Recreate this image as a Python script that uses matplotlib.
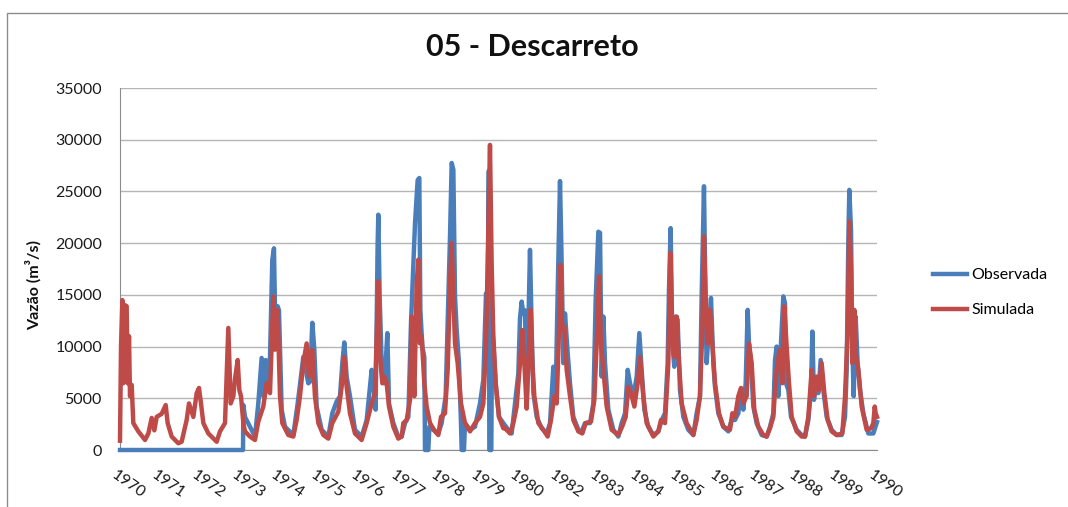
import numpy as np
import matplotlib
matplotlib.use("Agg")
import matplotlib.pyplot as plt
from matplotlib.patches import Rectangle
from matplotlib.transforms import ScaledTranslation

# Daily discharge at station 05 - Descarreto, 1970-1990 (decimal years, m3/s)
obs_years = [
    1970.000, 1973.250, 1973.259, 1973.302, 1973.434, 1973.566, 1973.654, 1973.742,
    1973.786, 1973.848, 1973.901, 1973.963, 1974.024, 1974.068, 1974.112, 1974.165,
    1974.200, 1974.271, 1974.359, 1974.579, 1974.694, 1974.755, 1974.843, 1974.975,
    1975.019, 1975.081, 1975.134, 1975.195, 1975.328, 1975.504, 1975.609, 1975.724,
    1975.812, 1975.874, 1975.926, 1975.988, 1976.076, 1976.208, 1976.384, 1976.517,
    1976.649, 1976.693, 1976.754, 1976.807, 1976.825, 1976.860, 1976.913, 1976.984,
    1977.019, 1977.063, 1977.107, 1977.221, 1977.353, 1977.442, 1977.530, 1977.618,
    1977.688, 1977.750, 1977.794, 1977.864, 1977.908, 1977.935, 1977.988, 1978.040,
    1978.058, 1978.146, 1978.173, 1978.278, 1978.410, 1978.498, 1978.604, 1978.675,
    1978.719, 1978.763, 1978.807, 1978.851, 1978.895, 1978.956, 1979.009, 1979.027,
    1979.088, 1979.115, 1979.247, 1979.379, 1979.511, 1979.599, 1979.670, 1979.714,
    1979.745, 1979.758, 1979.810, 1979.830, 1979.864, 1979.925, 1980.013, 1980.128,
    1980.260, 1980.348, 1980.436, 1980.524, 1980.568, 1980.612, 1980.656, 1980.700,
    1980.744, 1980.788, 1980.832, 1980.877, 1980.921, 1981.009, 1981.141, 1981.273,
    1981.361, 1981.449, 1981.511, 1981.563, 1981.625, 1981.669, 1981.713, 1981.757,
    1981.828, 1981.889, 1981.977, 1982.110, 1982.198, 1982.286, 1982.418, 1982.506,
    1982.567, 1982.638, 1982.682, 1982.726, 1982.770, 1982.814, 1982.902, 1983.034,
    1983.166, 1983.254, 1983.343, 1983.413, 1983.475, 1983.563, 1983.651, 1983.721,
    1983.782, 1983.853, 1983.958, 1984.090, 1984.223, 1984.311, 1984.399, 1984.469,
    1984.504, 1984.548, 1984.592, 1984.645, 1984.680, 1984.733, 1984.795, 1984.883,
    1985.015, 1985.147, 1985.235, 1985.323, 1985.367, 1985.429, 1985.473, 1985.499,
    1985.544, 1985.614, 1985.676, 1985.720, 1985.808, 1985.940, 1986.072, 1986.160,
    1986.248, 1986.336, 1986.407, 1986.468, 1986.530, 1986.583, 1986.618, 1986.671,
    1986.732, 1986.820, 1986.953, 1987.085, 1987.173, 1987.261, 1987.305, 1987.349,
    1987.393, 1987.437, 1987.525, 1987.569, 1987.596, 1987.657, 1987.728, 1987.878,
    1988.010, 1988.098, 1988.186, 1988.256, 1988.292, 1988.336, 1988.380, 1988.450,
    1988.512, 1988.582, 1988.670, 1988.802, 1988.934, 1989.067, 1989.155, 1989.199,
    1989.243, 1989.269, 1989.313, 1989.348, 1989.384, 1989.436, 1989.489, 1989.551,
    1989.639, 1989.771, 1989.903, 1990.000,
]
obs_flow = [
    0, 0, 4350, 3200, 2250, 1300, 4500, 8900,
    5200, 8700, 6450, 9000, 18400, 19500, 10000, 13900,
    13500, 3900, 2250, 1450, 4500, 6300, 9000, 6450,
    6600, 12300, 9700, 4200, 1950, 1300, 3550, 4700,
    5200, 8400, 10400, 7100, 5200, 1950, 1300, 2900,
    7750, 6450, 3900, 20000, 22750, 14850, 8400, 6450,
    8400, 11300, 4500, 2600, 1300, 1300, 2600, 3200,
    12250, 18000, 21900, 26100, 26300, 13550, 10000, 9000,
    0, 0, 2250, 1950, 1600, 2600, 5200, 14850,
    20650, 27750, 27100, 14850, 11600, 8400, 2600, 0,
    0, 2600, 1950, 2250, 4500, 6800, 15150, 13550,
    27000, 0, 0, 12000, 10300, 6450, 3200, 2600,
    1950, 1600, 4500, 7400, 12750, 14350, 13200, 13500,
    4200, 11600, 19350, 11600, 5500, 3200, 2100, 1600,
    2600, 8050, 5500, 15150, 26000, 18000, 8400, 13200,
    9350, 6450, 3200, 1950, 1800, 2600, 2600, 4500,
    14500, 21100, 21000, 7100, 12900, 8400, 3900, 1950,
    1300, 2600, 3550, 7750, 6450, 5200, 7100, 11300,
    7750, 3900, 2250, 1450, 1800, 2900, 3550, 8400,
    15500, 21450, 10300, 8050, 12900, 12600, 5800, 3200,
    1950, 1450, 3550, 5200, 14850, 25500, 12900, 8400,
    10950, 14700, 8400, 6100, 3550, 2250, 1800, 2900,
    2900, 3550, 5800, 3900, 6450, 13550, 10300, 8400,
    4200, 2600, 1450, 1300, 2250, 3550, 8700, 10000,
    5200, 8400, 14850, 14200, 6450, 5800, 3200, 1950,
    1450, 1300, 2900, 5800, 11450, 4850, 6450, 5500,
    8700, 5800, 3200, 1950, 1450, 1450, 3200, 7750,
    20300, 25150, 21300, 10000, 5200, 12900, 8400, 5800,
    3550, 1600, 1600, 2700,
]

sim_years = [
    1970.000, 1970.027, 1970.062, 1970.088, 1970.132, 1970.176, 1970.203, 1970.238,
    1970.264, 1970.308, 1970.352, 1970.484, 1970.661, 1970.749, 1970.837, 1970.907,
    1970.969, 1971.101, 1971.207, 1971.259, 1971.365, 1971.541, 1971.629, 1971.761,
    1971.823, 1971.938, 1972.026, 1972.087, 1972.140, 1972.202, 1972.334, 1972.554,
    1972.642, 1972.774, 1972.862, 1972.924, 1972.994, 1973.039, 1973.109, 1973.153,
    1973.197, 1973.259, 1973.302, 1973.434, 1973.566, 1973.654, 1973.786, 1973.874,
    1973.963, 1974.051, 1974.095, 1974.165, 1974.227, 1974.288, 1974.447, 1974.579,
    1974.667, 1974.755, 1974.843, 1974.931, 1974.993, 1975.081, 1975.151, 1975.240,
    1975.372, 1975.504, 1975.609, 1975.768, 1975.856, 1975.926, 1975.988, 1976.076,
    1976.208, 1976.384, 1976.517, 1976.649, 1976.737, 1976.825, 1976.869, 1976.931,
    1976.984, 1977.045, 1977.107, 1977.221, 1977.353, 1977.442, 1977.486, 1977.574,
    1977.662, 1977.706, 1977.776, 1977.838, 1977.882, 1977.926, 1977.970, 1978.040,
    1978.102, 1978.190, 1978.322, 1978.410, 1978.481, 1978.586, 1978.657, 1978.719,
    1978.763, 1978.807, 1978.851, 1978.921, 1979.009, 1979.115, 1979.247, 1979.379,
    1979.511, 1979.599, 1979.670, 1979.731, 1979.775, 1979.819, 1979.864, 1979.925,
    1980.013, 1980.128, 1980.172, 1980.304, 1980.392, 1980.480, 1980.568, 1980.630,
    1980.683, 1980.744, 1980.806, 1980.850, 1980.894, 1980.947, 1981.053, 1981.185,
    1981.299, 1981.387, 1981.475, 1981.537, 1981.599, 1981.634, 1981.687, 1981.740,
    1981.801, 1981.889, 1981.977, 1982.110, 1982.215, 1982.303, 1982.444, 1982.532,
    1982.594, 1982.655, 1982.708, 1982.770, 1982.858, 1982.990, 1983.166, 1983.272,
    1983.360, 1983.431, 1983.501, 1983.589, 1983.677, 1983.739, 1983.826, 1983.914,
    1984.090, 1984.223, 1984.293, 1984.399, 1984.487, 1984.540, 1984.592, 1984.645,
    1984.707, 1984.769, 1984.839, 1984.971, 1985.147, 1985.235, 1985.323, 1985.385,
    1985.429, 1985.473, 1985.526, 1985.588, 1985.649, 1985.720, 1985.825, 1985.940,
    1986.116, 1986.178, 1986.248, 1986.336, 1986.407, 1986.468, 1986.556, 1986.618,
    1986.688, 1986.759, 1986.864, 1986.997, 1987.085, 1987.173, 1987.261, 1987.323,
    1987.376, 1987.437, 1987.499, 1987.552, 1987.613, 1987.675, 1987.746, 1987.878,
    1988.010, 1988.098, 1988.186, 1988.274, 1988.336, 1988.406, 1988.468, 1988.538,
    1988.609, 1988.697, 1988.802, 1988.934, 1989.084, 1989.155, 1989.225, 1989.269,
    1989.313, 1989.348, 1989.401, 1989.445, 1989.507, 1989.595, 1989.727, 1989.842,
    1989.903, 1989.940, 1989.965, 1990.000,
]
sim_flow = [
    900, 10000, 14500, 6450, 14000, 13900, 6450, 11000,
    5200, 6300, 2600, 1800, 970, 1600, 3100, 1900,
    3200, 3500, 4350, 2600, 1300, 650, 800, 2900,
    4500, 3200, 5500, 6000, 4500, 2600, 1600, 800,
    1800, 2600, 11800, 4500, 5200, 6900, 8700, 5800,
    5200, 2600, 1800, 1300, 970, 2750, 4200, 6450,
    5500, 14850, 9700, 13550, 5200, 2600, 1450, 1300,
    2900, 5200, 8400, 10300, 7100, 9700, 5200, 2600,
    1450, 1100, 2600, 3700, 6100, 9000, 6100, 3550,
    1600, 970, 2600, 4500, 5500, 16300, 9000, 6450,
    7100, 6450, 4200, 2250, 1100, 1300, 2600, 2900,
    4850, 12900, 5200, 16100, 18400, 10300, 11000, 6450,
    4200, 2600, 1800, 1450, 3200, 3550, 7750, 16100,
    20000, 14850, 10300, 8400, 4500, 2600, 1800, 2600,
    3200, 4500, 10000, 21300, 29500, 18000, 11000, 6450,
    3200, 2100, 2100, 1600, 2600, 4200, 8400, 11600,
    8400, 4000, 10000, 13550, 8400, 5200, 2600, 1950,
    1300, 2900, 5200, 4500, 11600, 17900, 11600, 11900,
    7750, 5200, 2900, 1800, 1600, 2600, 2750, 4850,
    10300, 16800, 10300, 7750, 4200, 1950, 1450, 2300,
    3200, 6100, 5500, 4200, 6450, 9000, 5200, 2600,
    1300, 1800, 2900, 2600, 8400, 19050, 11600, 9000,
    12900, 8400, 4500, 2600, 1450, 2900, 5200, 11600,
    20650, 14850, 10300, 13550, 10300, 6450, 3550, 2250,
    1950, 3550, 3200, 5200, 6000, 4500, 5200, 10300,
    8400, 3900, 2250, 1450, 1300, 2100, 3200, 6800,
    8700, 9700, 6450, 13900, 10000, 6450, 3200, 1800,
    1300, 1300, 3200, 7750, 5200, 7100, 5800, 8400,
    5500, 2900, 1800, 1450, 1600, 5200, 11600, 22100,
    17400, 8400, 13550, 9000, 7750, 4200, 1950, 2100,
    2600, 4200, 3550, 3200,
]

year_labels = ["1970", "1971", "1972", "1973", "1974", "1975", "1976", "1977",
               "1978", "1979", "1980", "1982", "1983", "1984", "1985", "1986",
               "1987", "1988", "1989", "1990"]

FONT = ["Lato", "DejaVu Sans"]
plt.rcParams["font.family"] = FONT

W, H = 1068, 507
fig = plt.figure(figsize=(W / 100, H / 100), dpi=100)
fig.patch.set_facecolor("white")

# chart frame
fig.add_artist(Rectangle((7 / W, -0.05), 1.2, 1.05 - 13 / H,
                         transform=fig.transFigure, fill=False,
                         edgecolor="#8c8c8c", linewidth=1.0, clip_on=False))

ax = fig.add_axes([120 / W, 1 - 450 / H, (877 - 120) / W, (450 - 88) / H])

blue = "#4A7EBB"
red = "#BE4B48"
l1, = ax.plot(obs_years, obs_flow, color=blue, lw=3.2, solid_joinstyle="round",
              clip_on=False, zorder=3, label="Observada")
l2, = ax.plot(sim_years, sim_flow, color=red, lw=3.2, solid_joinstyle="round",
              clip_on=False, zorder=4, label="Simulada")

ax.set_xlim(1970, 1990)
ax.set_ylim(0, 35000)
ax.set_yticks(np.arange(0, 35001, 5000))
ax.set_yticklabels([str(v) for v in range(0, 35001, 5000)])
ax.yaxis.grid(True, color="#b5b5b5", lw=1.0)
ax.set_axisbelow(True)
for s in ("top", "right"):
    ax.spines[s].set_visible(False)
ax.spines["left"].set_color("#8c8c8c")
ax.spines["bottom"].set_color("#8c8c8c")
ax.tick_params(axis="both", length=0, labelsize=11.5, colors="#1a1a1a")
ax.tick_params(axis="y", pad=13)

ax.set_xticks(np.linspace(1970, 1990, len(year_labels)))
ax.set_xticklabels(year_labels, rotation=-35, ha="left", va="top",
                   rotation_mode="anchor")
ax.tick_params(axis="x", pad=13)
shift = ScaledTranslation(-3 / 100, 0, fig.dpi_scale_trans)
for lab in ax.get_xticklabels():
    lab.set_transform(lab.get_transform() + shift)

fig.text(532 / W, 1 - 47 / H, "05 - Descarreto", ha="center", va="center",
         fontsize=22, fontweight="bold", color="#111111")
fig.text(33 / W, 1 - 285 / H, "Vazão (m³/s)", rotation=90, ha="center",
         va="center", fontsize=11.5, fontweight="bold", color="#111111")

fig.legend(handles=[l1, l2], loc="upper left",
           bbox_to_anchor=(933 / W, 1 - 268 / H), frameon=False,
           fontsize=11.5, handlelength=2.1, handletextpad=0.3,
           labelspacing=1.3, borderpad=0, borderaxespad=0)

fig.savefig("out.png", dpi=100, facecolor="white")
